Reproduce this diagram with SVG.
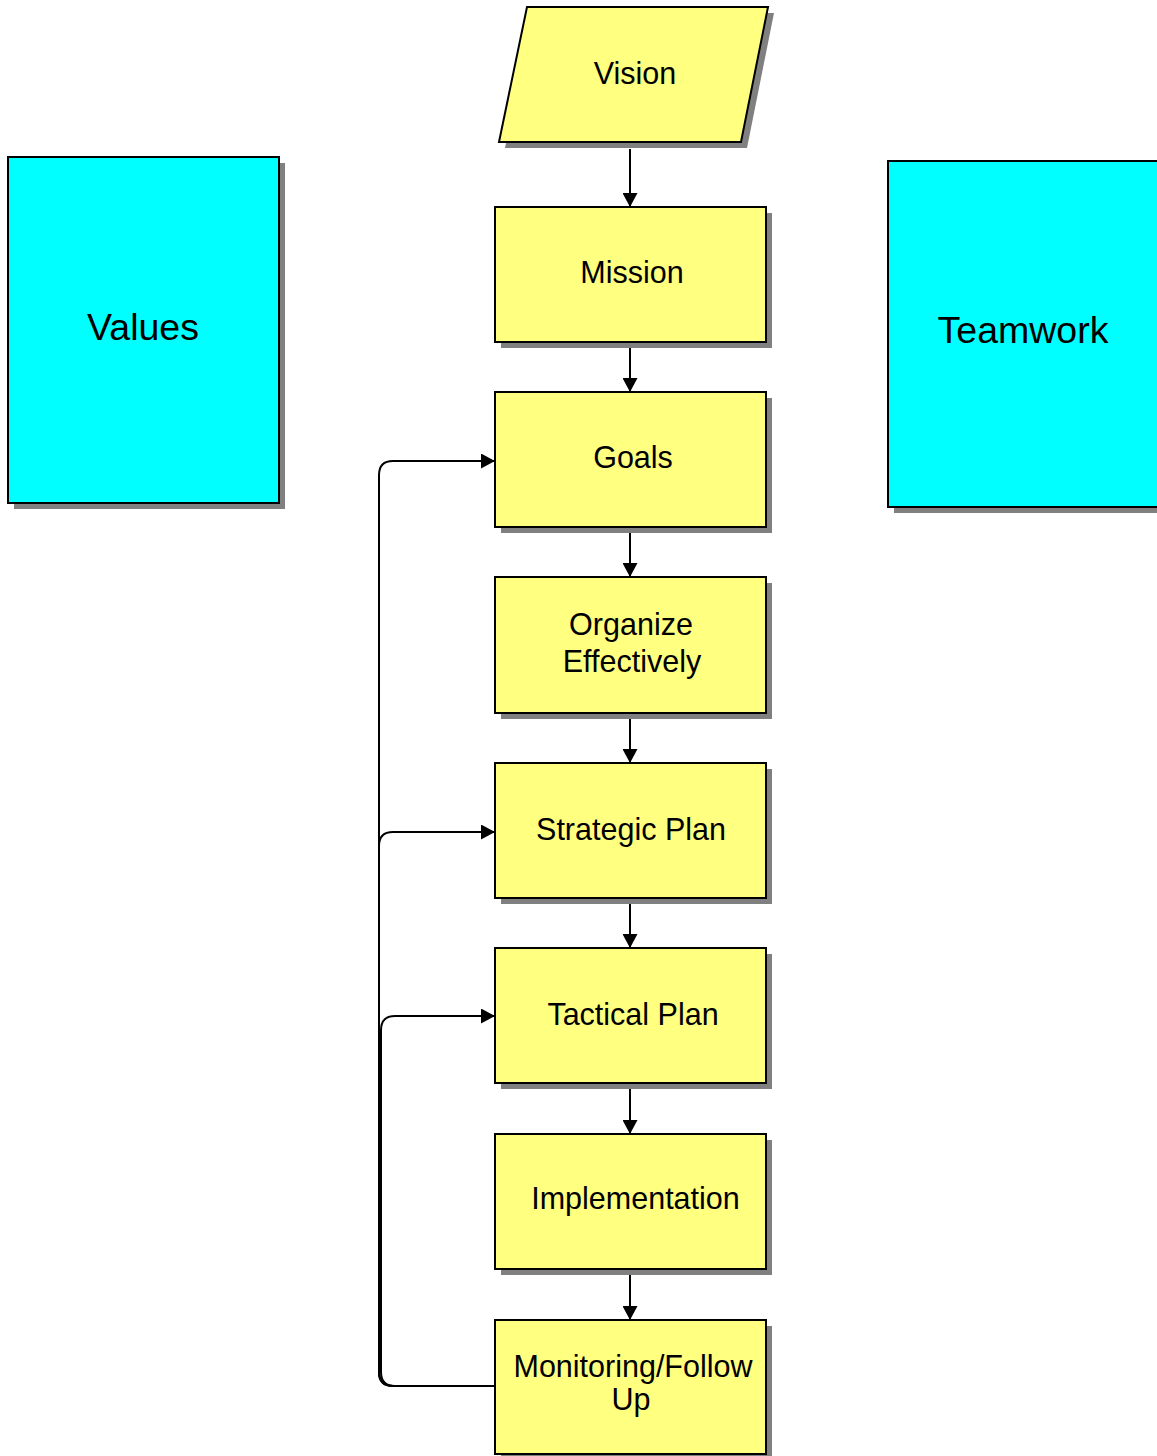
<svg xmlns="http://www.w3.org/2000/svg" width="1157" height="1456" viewBox="0 0 1157 1456">
<defs>
<style>
.shadow{fill:#808080;stroke:none}
.yel{fill:#FFFF80;stroke:#000;stroke-width:2}
.cyan{fill:#00FFFF;stroke:#000;stroke-width:2}
.t{font-family:"Liberation Sans",Arial,sans-serif;font-size:30.5px;fill:#000;text-anchor:middle}
.big{font-family:"Liberation Sans",Arial,sans-serif;font-size:37.5px;fill:#000;text-anchor:middle}
.c{fill:none;stroke:#000;stroke-width:2}
</style>
<marker id="ah" viewBox="0 0 14 15" refX="14" refY="7.5" markerWidth="14" markerHeight="15" markerUnits="userSpaceOnUse" orient="auto">
<path d="M0,0 L14,7.5 L0,15 Z" fill="#000"/>
</marker>
</defs>
<rect width="1157" height="1456" fill="#fff"/>

<g id="connectors">
<path class="c" d="M630,149 V207" marker-end="url(#ah)"/>
<path class="c" d="M630,348 V392" marker-end="url(#ah)"/>
<path class="c" d="M630,533 V577" marker-end="url(#ah)"/>
<path class="c" d="M630,719 V763" marker-end="url(#ah)"/>
<path class="c" d="M630,904 V948" marker-end="url(#ah)"/>
<path class="c" d="M630,1089 V1134" marker-end="url(#ah)"/>
<path class="c" d="M630,1275 V1320" marker-end="url(#ah)"/>
<path class="c" d="M495,1386 H393 Q379,1386 379,1372 V475 Q379,461 393,461 H495" marker-end="url(#ah)"/>
<path class="c" d="M495,1386 H393 Q379,1386 379,1372 V846 Q379,832 393,832 H495" marker-end="url(#ah)"/>
<path class="c" d="M495,1386 H395 Q381,1386 381,1372 V1030 Q381,1016 395,1016 H495" marker-end="url(#ah)"/>
</g>

<g id="vision">
<polygon class="shadow" points="533,13 774,13 747,148 505,148"/>
<polygon class="yel" points="527,7 768,7 741,142 499,142"/>
<text class="t" x="635" y="84">Vision</text>
</g>

<g id="mission">
<rect class="shadow" x="501" y="213" width="271" height="135"/>
<rect class="yel" x="495" y="207" width="271" height="135"/>
<text class="t" x="632" y="283">Mission</text>
</g>

<g id="goals">
<rect class="shadow" x="501" y="398" width="271" height="135"/>
<rect class="yel" x="495" y="392" width="271" height="135"/>
<text class="t" x="633" y="468">Goals</text>
</g>

<g id="organize">
<rect class="shadow" x="501" y="583" width="271" height="136"/>
<rect class="yel" x="495" y="577" width="271" height="136"/>
<text class="t" x="631" y="635">Organize</text>
<text class="t" x="632" y="672">Effectively</text>
</g>

<g id="strategic">
<rect class="shadow" x="501" y="769" width="271" height="135"/>
<rect class="yel" x="495" y="763" width="271" height="135"/>
<text class="t" x="631" y="840">Strategic Plan</text>
</g>

<g id="tactical">
<rect class="shadow" x="501" y="954" width="271" height="135"/>
<rect class="yel" x="495" y="948" width="271" height="135"/>
<text class="t" x="633" y="1025">Tactical Plan</text>
</g>

<g id="implementation">
<rect class="shadow" x="501" y="1140" width="271" height="135"/>
<rect class="yel" x="495" y="1134" width="271" height="135"/>
<text class="t" x="635.5" y="1209">Implementation</text>
</g>

<g id="monitoring">
<rect class="shadow" x="501" y="1326" width="271" height="135"/>
<rect class="yel" x="495" y="1320" width="271" height="134"/>
<text class="t" x="633" y="1377">Monitoring/Follow</text>
<text class="t" x="631" y="1410">Up</text>
</g>

<g id="values">
<rect class="shadow" x="14" y="163" width="271" height="346"/>
<rect class="cyan" x="8" y="157" width="271" height="346"/>
<text class="big" x="143" y="340">Values</text>
</g>

<g id="teamwork">
<rect class="shadow" x="894" y="167" width="271" height="346"/>
<rect class="cyan" x="888" y="161" width="271" height="346"/>
<text class="big" x="1023" y="343">Teamwork</text>
</g>
</svg>
